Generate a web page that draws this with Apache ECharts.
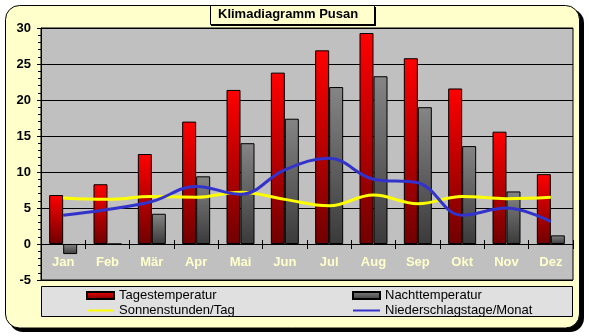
<!DOCTYPE html>
<html>
<head>
<meta charset="utf-8">
<script src="https://cdn.jsdelivr.net/npm/echarts@6/dist/echarts.min.js"></script>
<style>
html,body{margin:0;padding:0;background:#ffffff;}
#chart{width:589px;height:336px;}
</style>
</head>
<body>
<div id="chart"></div>
<script>
var months = ['Jan','Feb','Mär','Apr','Mai','Jun','Jul','Aug','Sep','Okt','Nov','Dez'];
var tagesTemp = [6.8, 8.3, 12.5, 17.0, 21.4, 23.8, 26.9, 29.3, 25.8, 21.6, 15.6, 9.7];
var nachtTemp = [-1.4, 0, 4.2, 9.4, 14.0, 17.4, 21.8, 23.3, 19.0, 13.6, 7.3, 1.2];
var sonnenstunden = [6.4, 6.2, 6.6, 6.5, 7.2, 6.2, 5.3, 6.8, 5.6, 6.6, 6.3, 6.5];
var niederschlagstage = [4.0, 4.8, 5.9, 8.0, 6.9, 10.3, 11.9, 9.0, 8.5, 4.0, 5.0, 3.1];
var seriesNames = ['Tagestemperatur','Nachttemperatur','Sonnenstunden/Tag','Niederschlagstage/Monat'];
var titleText = 'Klimadiagramm Pusan';

var FONT = '"Liberation Sans", Arial, sans-serif';
var chart = echarts.init(document.getElementById('chart'), null, {renderer:'canvas'});

function grad(top, bottom){
  return new echarts.graphic.LinearGradient(0,0,0,1,[{offset:0,color:top},{offset:1,color:bottom}]);
}

var legendText = {fontFamily:FONT,fontSize:13,color:'#000',lineHeight:13};
var hideSym = {opacity:0, borderWidth:0};

// grid geometry: plot spans y 28..280 for -5..30 => 0 sits 36px above the bottom
var GRID_TOP = 28, GRID_BOTTOM = 56, ZERO_FROM_BOTTOM = 36, PLOT_H = 252;

var option = {
  animation:false,
  backgroundColor:'#ffffff',
  title:{
    text:titleText, left:218, top:8, padding:0,
    textStyle:{fontFamily:FONT, fontSize:13, fontWeight:'bold', color:'#000'}
  },
  graphic:[
    {type:'rect', z:-20, shape:{x:9,y:9,width:575,height:323,r:14}, style:{fill:'#000'}},
    {type:'rect', z:-19, shape:{x:5.5,y:5.5,width:574,height:322.5,r:14}, style:{fill:'#FFFFCC',stroke:'#000',lineWidth:1}},
    {type:'rect', z:-18, shape:{x:211,y:7,width:165,height:19}, style:{fill:'#000'}},
    {type:'rect', z:-17, shape:{x:210.5,y:5.5,width:164,height:19}, style:{fill:'#FFFFCC',stroke:'#000',lineWidth:1}},
    {type:'rect', z:-17, shape:{x:41.5,y:286.5,width:531,height:30}, style:{fill:'#E0E0E0',stroke:'#000',lineWidth:1}}
  ],
  legend:[
    {data:[{name:seriesNames[0],icon:'rect'},{name:seriesNames[2],itemStyle:hideSym}], orient:'vertical', left:86, top:289, padding:0,
     itemWidth:27, itemHeight:7, itemGap:2, textStyle:legendText},
    {data:[{name:seriesNames[1],icon:'rect'},{name:seriesNames[3],itemStyle:hideSym}], orient:'vertical', left:352, top:289, padding:0,
     itemWidth:27, itemHeight:7, itemGap:2, textStyle:legendText}
  ],
  grid:{left:41, right:16, top:GRID_TOP, bottom:GRID_BOTTOM, show:true, backgroundColor:'#C0C0C0', borderColor:'#000', borderWidth:1},
  xAxis:[
    {type:'category', data:months, position:'bottom', offset:-ZERO_FROM_BOTTOM,
     axisLine:{onZero:false, lineStyle:{color:'#000',width:1}},
     axisTick:{show:true, inside:false, length:5, lineStyle:{color:'#000'}},
     axisLabel:{margin:12, color:'#FFFFCC', fontFamily:FONT, fontSize:13, fontWeight:'bold'},
     splitLine:{show:false}},
    {type:'category', data:months, position:'top', offset:-(PLOT_H-ZERO_FROM_BOTTOM),
     axisLine:{onZero:false, show:false},
     axisTick:{show:true, inside:false, length:4, lineStyle:{color:'#000'}},
     axisLabel:{show:false}, splitLine:{show:false}}
  ],
  yAxis:{type:'value', min:-5, max:30, interval:5,
    axisLine:{show:true, lineStyle:{color:'#000'}},
    axisTick:{show:true, inside:false, length:4, lineStyle:{color:'#000'}},
    minorTick:{show:true, splitNumber:5, length:3, lineStyle:{color:'#000'}},
    axisLabel:{margin:10, color:'#000', fontFamily:FONT, fontSize:13, fontWeight:'bold'},
    splitLine:{show:true, lineStyle:{color:'#000', width:1}}
  },
  series:[
    {name:seriesNames[0], type:'bar', data:tagesTemp, barWidth:14, barGap:'0%',
     itemStyle:{color:grad('#FF0000','#700000'), borderColor:'#000', borderWidth:1}},
    {name:seriesNames[1], type:'bar', data:nachtTemp, barWidth:14, barGap:'0%',
     itemStyle:{color:grad('#858585','#3A3A3A'), borderColor:'#000', borderWidth:1}},
    {name:seriesNames[2], type:'line', data:sonnenstunden, smooth:0.4, symbol:'none',
     lineStyle:{color:'#FFFF00', width:3}, itemStyle:{color:'#FFFF00'}},
    {name:seriesNames[3], type:'line', data:niederschlagstage, smooth:0.4, symbol:'none',
     lineStyle:{color:'#3333CC', width:3}, itemStyle:{color:'#3333CC'}}
  ]
};
chart.setOption(option);
</script>
</body>
</html>
